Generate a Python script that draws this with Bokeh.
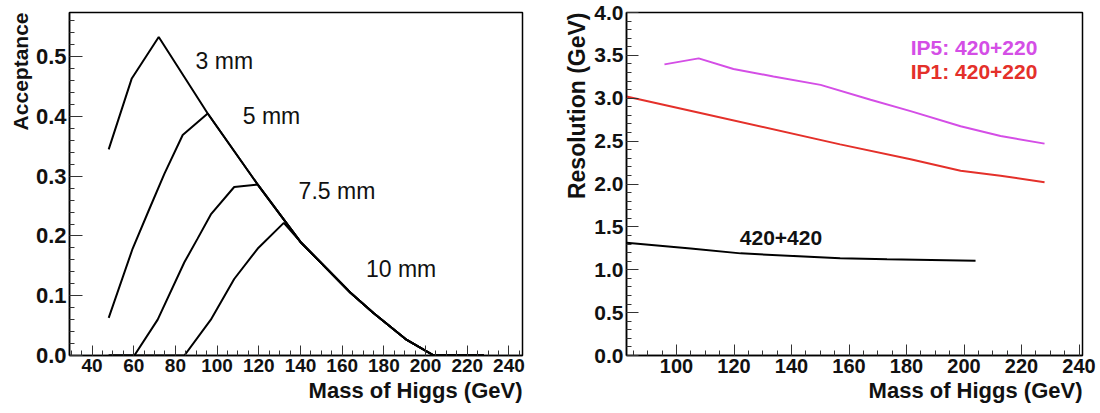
import math
import numpy as np
from bokeh.plotting import figure
from bokeh.models import Range1d, FixedTicker, PrintfTickFormatter, Label, Title
from bokeh.layouts import row
from bokeh.embed import file_html
from bokeh.resources import INLINE

FONT = "Liberation Sans"

# ---------------- Left panel: acceptance vs Higgs mass ----------------
mass_3mm = [48, 59, 72, 95.5, 119.5, 140, 164, 175, 191, 204, 228]
acc_3mm = [0.345, 0.463, 0.533, 0.405, 0.286, 0.19, 0.105, 0.071, 0.026, 0.0, 0.0]

mass_5mm = [48, 59.5, 67, 74.7, 83.5, 95.5, 119.5, 140, 164, 175, 191, 204, 228]
acc_5mm = [0.063, 0.179, 0.241, 0.304, 0.369, 0.405, 0.286, 0.19, 0.105, 0.071, 0.026, 0.0, 0.0]

mass_75mm = [48, 60.3, 71.5, 84.3, 90.7, 97, 108.2, 119.5, 140, 164, 175, 191, 204, 228]
acc_75mm = [0.0, 0.0, 0.06, 0.156, 0.196, 0.236, 0.282, 0.286, 0.19, 0.105, 0.071, 0.026, 0.0, 0.0]

mass_10mm = [48, 84.3, 97, 108.2, 119.5, 132, 140, 164, 175, 191, 204, 228]
acc_10mm = [0.0, 0.0, 0.06, 0.128, 0.179, 0.222, 0.19, 0.105, 0.071, 0.026, 0.0, 0.0]

left_xticks = [40, 60, 80, 100, 120, 140, 160, 180, 200, 220, 240]
left_yticks = [0.0, 0.1, 0.2, 0.3, 0.4, 0.5]
left_labels = ["3 mm", "5 mm", "7.5 mm", "10 mm"]

# ---------------- Right panel: resolution vs Higgs mass ----------------
mass_ip5 = [95.8, 107.7, 119.8, 133.7, 150.1, 167.5, 181.4, 198.8, 212.7, 228.0]
res_ip5 = [3.395, 3.465, 3.341, 3.254, 3.156, 2.983, 2.850, 2.674, 2.559, 2.471]

mass_ip1 = [82.6, 108.3, 156.9, 181.4, 198.8, 212.7, 228.0]
res_ip1 = [3.021, 2.829, 2.462, 2.289, 2.154, 2.096, 2.020]

mass_420 = [82.6, 104.9, 122.3, 156.9, 173.2, 204.0]
res_420 = [1.315, 1.249, 1.191, 1.133, 1.121, 1.106]

right_xticks = [100, 120, 140, 160, 180, 200, 220, 240]
right_yticks = [0.0, 0.5, 1.0, 1.5, 2.0, 2.5, 3.0, 3.5, 4.0]
right_labels = ["IP5: 420+220", "IP1: 420+220", "420+420"]

MAGENTA = "#d44ee6"
RED = "#e4302a"


def style(p, xt, xminor, yt, yminor, xfs, yfs, xmaj, ymaj, xtitle, ytitle, xstand, ystand, yts):
    p.xaxis.ticker = FixedTicker(ticks=xt, minor_ticks=xminor)
    p.yaxis.ticker = FixedTicker(ticks=yt, minor_ticks=yminor)
    p.yaxis.formatter = PrintfTickFormatter(format="%.1f")
    p.xgrid.visible = False
    p.ygrid.visible = False
    p.outline_line_color = "black"
    p.outline_line_width = 1.5
    p.outline_line_alpha = 1.0
    for ax, fs, maj in ((p.xaxis, xfs, xmaj), (p.yaxis, yfs, ymaj)):
        ax.axis_line_color = "black"
        ax.axis_line_width = 1.5
        ax.major_tick_in = maj
        ax.major_tick_out = 0
        ax.minor_tick_in = 5
        ax.minor_tick_out = 0
        ax.major_tick_line_color = "#333333"
        ax.minor_tick_line_color = "#333333"
        ax.major_label_text_font = FONT
        ax.major_label_text_font_style = "bold"
        ax.major_label_text_font_size = fs
        ax.major_label_text_color = "#111111"
        ax.major_label_standoff = 3
    p.add_layout(Title(text=ytitle, align="right", text_font=FONT, text_font_style="bold",
                       text_font_size=yts, text_color="#111111", standoff=ystand, offset=0), "left")
    p.add_layout(Title(text=xtitle, align="right", text_font=FONT, text_font_style="bold",
                       text_font_size="22px", text_color="#111111", standoff=xstand, offset=0), "below")
    p.background_fill_color = "white"
    p.border_fill_color = "white"


# Left figure
p1 = figure(width=545, height=413, output_backend="svg", toolbar_location=None, title_location=None,
            x_range=Range1d(29.2, 246.5), y_range=Range1d(0, 0.574),
            min_border_left=69, min_border_right=23, min_border_top=9, min_border_bottom=58)
style(p1, left_xticks, list(np.arange(30, 246, 5)), left_yticks, list(np.round(np.arange(0, 0.575, 0.02), 2)),
      "19px", "22px", 10, 13, "Mass of Higgs (GeV)", "Acceptance", 2, 2, "21px")

for xs, ys in ((mass_3mm, acc_3mm), (mass_5mm, acc_5mm), (mass_75mm, acc_75mm), (mass_10mm, acc_10mm)):
    p1.line(xs, ys, line_color="black", line_width=2)

label_pos_left = [(89.7, 0.493), (112.3, 0.40), (139.1, 0.2755), (171.4, 0.145)]
for txt, (lx, ly) in zip(left_labels, label_pos_left):
    p1.add_layout(Label(x=lx, y=ly, text=txt, text_font=FONT, text_font_size="23px",
                        text_baseline="middle", text_align="left", text_color="#111111"))

# Right figure
p2 = figure(width=555, height=413, output_backend="svg", toolbar_location=None, title_location=None,
            x_range=Range1d(82.6, 241.2), y_range=Range1d(0, 4.0),
            min_border_left=81, min_border_right=18, min_border_top=12, min_border_bottom=58)
style(p2, right_xticks, list(np.arange(85, 241, 5)), right_yticks, list(np.round(np.arange(0, 4.01, 0.1), 1)),
      "20px", "21px", 11, 12, "Mass of Higgs (GeV)", "Resolution (GeV)", 0, 4, "23px")

p2.line(mass_ip5, res_ip5, line_color=MAGENTA, line_width=2)
p2.line(mass_ip1, res_ip1, line_color=RED, line_width=2)
p2.line(mass_420, res_420, line_color="black", line_width=2)

p2.add_layout(Label(x=225.5, y=3.595, text=right_labels[0], text_font=FONT, text_font_style="bold",
                    text_font_size="21px", text_align="right", text_baseline="middle", text_color=MAGENTA))
p2.add_layout(Label(x=225.5, y=3.31, text=right_labels[1], text_font=FONT, text_font_style="bold",
                    text_font_size="21px", text_align="right", text_baseline="middle", text_color=RED))
p2.add_layout(Label(x=122.0, y=1.372, text=right_labels[2], text_font=FONT, text_font_style="bold",
                    text_font_size="21px", text_align="left", text_baseline="middle", text_color="#111111"))

layout = row(p1, p2)
open("out.html", "w").write(file_html(layout, INLINE))
